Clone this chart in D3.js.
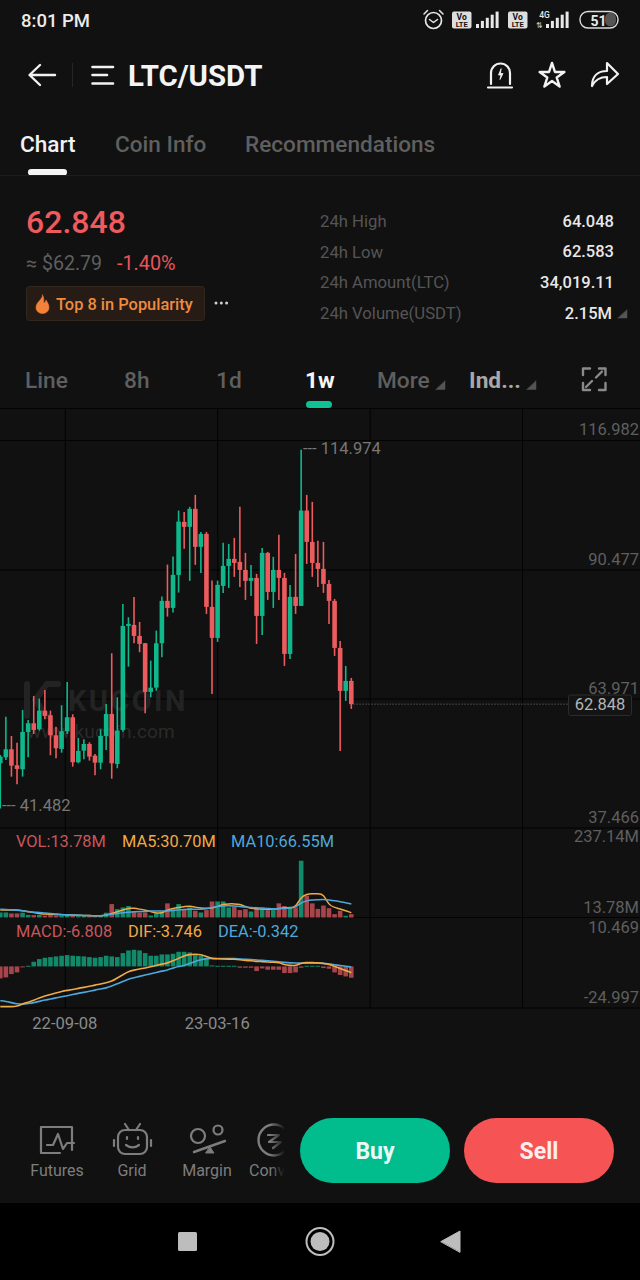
<!DOCTYPE html>
<html>
<head>
<meta charset="utf-8">
<script src="https://cdn.jsdelivr.net/npm/d3@7"></script>
<style>
html, body { margin: 0; padding: 0; background: #111; }
svg { display: block; font-family: Roboto, sans-serif; }
</style>
</head>
<body>
<div id="chart"></div>
<script>
const open_ = [50.73,51.96,53.60,50.32,49.50,57.15,58.93,57.70,61.52,60.57,56.47,53.67,57.29,60.16,50.94,53.32,54.69,52.29,50.86,56.33,60.84,50.59,57.56,78.88,79.09,76.83,75.33,65.35,66.23,75.33,84.01,82.57,89.34,100.20,99.18,102.87,95.08,97.74,82.78,76.42,87.08,91.18,92.62,92.00,90.36,88.11,88.72,80.93,93.85,85.85,90.36,88.72,73.14,84.83,82.98,102.52,96.10,91.80,90.57,87.49,84.01,74.37,65.56,67.61];
const close_ = [52.09,53.60,50.24,49.57,57.15,58.93,57.56,61.52,60.43,56.47,53.81,57.29,60.16,50.94,53.26,54.69,52.09,50.86,56.33,60.84,50.73,57.42,78.88,79.29,76.83,75.19,65.35,66.23,75.33,84.01,82.57,89.34,100.26,99.18,102.87,95.08,97.74,82.78,76.42,87.29,91.18,92.62,91.80,90.36,88.11,88.72,80.93,93.85,85.85,90.36,88.72,73.14,84.83,82.98,102.52,96.10,91.80,90.57,87.49,84.01,74.37,65.56,67.61,62.848];
const high_ = [52.44,60.29,56.33,54.96,61.66,59.61,64.53,63.98,65.76,61.52,58.24,62.62,67.40,60.78,55.92,55.65,55.04,52.64,57.70,62.89,73.28,64.26,83.39,80.66,84.83,79.70,75.40,71.77,77.92,84.89,91.45,93.09,102.52,102.25,103.28,105.74,98.15,98.15,88.17,88.17,95.90,95.69,96.92,103.28,93.85,91.39,89.54,94.87,94.05,93.03,97.54,89.75,87.29,93.64,114.974,105.74,104.30,96.31,96.10,88.31,84.42,75.81,70.68,68.22];
const low_ = [41.482,51.41,47.99,46.43,47.99,51.96,56.74,57.42,59.75,52.37,51.76,52.91,56.74,50.04,50.73,51.55,51.27,48.27,49.50,53.46,47.58,49.71,57.21,70.54,75.33,73.49,60.98,64.26,65.62,72.46,80.79,81.61,85.71,94.67,88.11,91.39,89.75,81.34,64.94,75.60,85.65,86.67,88.93,86.88,84.21,85.03,75.19,77.04,84.21,82.57,84.21,70.68,72.12,81.34,82.98,91.59,88.93,86.88,85.65,79.29,72.73,53.26,63.51,61.87];

// volume in millions
const volume = [21,21,17,17,20,11,10,11,8,10,8,7,10,8,6,6,6,6,7,20,56,35,42,48,25,21,21,8,17,25,59,39,56,31,42,28,21,31,67,67,67,42,45,31,35,25,36,36,31,31,59,48,45,42,237.14,91,59,36,50,39,14,28,7,13.78];
const ma5 = [31,31,31,32,28,24,21,17,14,14,13,11,11,11,10,8,8,7,7,10,17,24,31,39,39,35,31,25,18,18,31,39,42,45,49,43,39,38,39,46,56,57,57,56,45,38,36,35,34,35,38,41,41,41,87,98,99,99,99,50,42,36,28,20];
const ma10 = [34,34,32,31,28,25,22,21,18,17,14,13,11,10,10,8,8,7,7,10,14,17,20,22,24,25,25,27,27,27,27,29,32,34,35,35,34,36,42,46,49,49,48,46,43,42,41,39,38,36,36,38,39,41,63,70,73,74,76,73,70,66,62,56];

const macd = [-7.2,-6.6,-4.6,-3.6,-0.4,0.4,2.8,4.4,5.2,5.6,6.0,6.4,6.8,6.4,6.2,6.0,5.6,5.2,5.6,6.4,6.0,5.6,8.0,9.6,10.0,9.6,8.0,6.4,6.4,7.2,7.2,7.6,8.8,8.8,8.4,7.2,6.4,5.2,0.6,0.4,0.4,0.4,0.4,-0.8,-0.8,-0.8,-2.8,-1.2,-2,-2,-2,-4,-4,-3.6,-0.8,0.4,0.4,0.4,-1,-1.4,-3.6,-5.2,-6,-6.808];
const dif = [-24.2,-24.2,-24.2,-24,-22.6,-21.5,-20.3,-19,-17.8,-16.8,-16,-15,-14.4,-13.9,-13.2,-12.6,-12,-11.2,-10.6,-9.8,-9,-7,-5,-3,-2.2,-1.5,-1,-0.2,0.6,1.4,2,3.4,4.8,6.4,7.2,7.4,7.2,6,4.6,4.6,4.5,4.4,4.3,4,3.6,3.4,3,2.9,2.7,2.5,2.4,1,0.6,0.4,2,2.4,2.4,2.2,1.8,1.4,0,-1.2,-2.4,-3.746];
const dea = [-20.6,-21,-21.8,-22.5,-22.8,-22.3,-21.8,-21,-20.2,-19.6,-18.9,-18.2,-17.6,-16.9,-16.2,-15.6,-15,-14.2,-13.6,-13,-11.8,-10.5,-9,-7.6,-6.8,-6,-5.2,-4.4,-3.6,-2.8,-2.2,-1,0,0.4,1.8,3,4,4.8,4.8,4.8,4.8,4.8,4.7,4.5,4.3,4.1,3.9,3.7,3.4,3.1,2.8,2.4,2.1,2,2,2,2,2,1.9,1.5,1,0.6,0.1,-0.342];

const priceTicks = [116.982, 90.477, 63.971, 37.466];
const dateTicks = ["22-09-08", "23-03-16", "23-09-21", "24-03-28"];
const dateLabels = ["22-09-08", "23-03-16"];
const statLabels = ["24h High", "24h Low", "24h Amount(LTC)", "24h Volume(USDT)"];
const statValues = ["64.048", "62.583", "34,019.11", "2.15M"];

const GREEN = "#0fb78b", RED = "#ec5b5d", DIMGREEN = "#12896a", DIMRED = "#a8454a";
const YELLOW = "#f0aa45", BLUE = "#4ea8dc", GRID = "#030303", MUTED = "#5f5f5f";

const svg = d3.select("#chart").append("svg").attr("width", 640).attr("height", 1280);
svg.append("rect").attr("width", 640).attr("height", 1280).attr("fill", "#111111");

function label(x, y, str, size, fill, weight, anchor) {
    return svg.append("text").attr("x", x).attr("y", y).attr("font-size", size)
        .attr("fill", fill).attr("font-weight", weight || 400)
        .attr("text-anchor", anchor || "start").text(str);
}

function icon(d, stroke, width, fill) {
    return svg.append("path").attr("d", d).attr("fill", fill || "none")
        .attr("stroke", stroke).attr("stroke-width", width)
        .attr("stroke-linecap", "round").attr("stroke-linejoin", "round");
}

// scales
const x = d3.scaleLinear().domain([0, open_.length - 1]).range([0.3, 351.3]);
const y = d3.scaleLinear().domain([37.466, 116.982]).range([828, 440]);
const yVol = d3.scaleLinear().domain([0, 237.14]).range([917.5, 860.7]);
const yMacd = d3.scaleLinear().domain([-24.997, 10.469]).range([1008, 949]);
const xDate = d3.scalePoint().domain(dateTicks).range([65.3, 522.5]);

// status bar
label(21, 27, "8:01 PM", 18.5, "#ececec", 500);
svg.append("circle").attr("cx", 433.5).attr("cy", 20.5).attr("r", 8).attr("fill", "none").attr("stroke", "#e6e6e6").attr("stroke-width", 1.7);
icon("M429.5 19.5l4 3 4-3M424 14l3.5-3.5M443 14l-3.5-3.5", "#e6e6e6", 1.5);
[452, 508].forEach(bx => {
    svg.append("rect").attr("x", bx).attr("y", 11.5).attr("width", 19.5).attr("height", 17).attr("rx", 2).attr("fill", "#dedede");
    label(bx + 9.7, 19.5, "Vo", 8.5, "#111", 700, "middle");
    label(bx + 9.7, 27, "LTE", 7.5, "#111", 700, "middle");
});
[476, 546].forEach(bx => {
    d3.range(5).forEach(i => {
        const h = 4 + i * 3.1;
        svg.append("rect").attr("x", bx + i * 4.9).attr("y", 28 - h).attr("width", 3).attr("height", h).attr("fill", "#e8e8e8");
    });
});
label(544.5, 17.5, "4G", 8.5, "#e6e6e6", 500, "middle");
label(539, 28, "⇅", 8, "#cccccc", 400, "middle");
svg.append("rect").attr("x", 605).attr("y", 12.5).attr("width", 11).attr("height", 14).attr("rx", 6).attr("fill", "#555");
svg.append("rect").attr("x", 580).attr("y", 11.5).attr("width", 38).attr("height", 16.5).attr("rx", 8).attr("fill", "none").attr("stroke", "#dcdcdc").attr("stroke-width", 1.4);
label(598.5, 25.5, "51", 14, "#e8e8e8", 700, "middle");

// header
icon("M55 75H30M40 65L29.5 75L40 85", "#f2f2f2", 2.4);
svg.append("line").attr("x1", 72.5).attr("x2", 72.5).attr("y1", 63).attr("y2", 87).attr("stroke", "#262626").attr("stroke-width", 1);
icon("M92.5 67H113M92.5 75H107M92.5 83.5H113", "#f2f2f2", 2.6);
label(128, 86, "LTC/USDT", 29.4, "#f4f4f4", 700);
icon("M491 84V73A9.5 9.5 0 0 1 510 73V84M488 87.5H512", "#f2f2f2", 2.2);
icon("M501 69L498.5 75H501L500 79.5L503 73.5H500.8Z", "#f2f2f2", 0.8, "#f2f2f2");
icon(d3.symbol(d3.symbolStar, 190)(), "#f2f2f2", 2.4).attr("transform", "translate(552,76)");
icon("M592 86C592 76 598 71 607 71V63L618 74L607 84V77C600 77 595 80 592 86Z", "#f2f2f2", 2.2);

// tabs
label(20, 152, "Chart", 22.6, "#f2f2f2", 500);
label(115, 152, "Coin Info", 22.6, MUTED, 500);
label(245, 152, "Recommendations", 22.6, MUTED, 500);
svg.append("rect").attr("x", 28).attr("y", 169).attr("width", 39).attr("height", 6.5).attr("rx", 3.2).attr("fill", "#f4f4f4");
svg.append("line").attr("x1", 0).attr("x2", 640).attr("y1", 175.5).attr("y2", 175.5).attr("stroke", "#1d1d1d");

// price block
label(26, 233, "62.848", 32, "#ee5a5e", 500);
label(26, 270, "≈ $62.79", 19.6, MUTED);
label(117, 270, "-1.40%", 19.8, "#e9545a");
svg.append("rect").attr("x", 26.5).attr("y", 286.5).attr("width", 178).attr("height", 34).attr("rx", 3).attr("fill", "#261c15").attr("stroke", "#33261c");
icon("M42.5 295C43 299 36 302 36 307.5C36 311 39 313.5 42.5 313.5C46 313.5 49 311 49 307.5C49 304 47 302 46 300C45.5 302 44.5 303 43.5 303C44 300 44 297 42.5 295Z", "#f5823a", 0.5, "#f5823a");
label(56, 310, "Top 8 in Popularity", 16.4, "#ef8b3e", 500);
[216, 221.3, 226.6].forEach(cx => svg.append("circle").attr("cx", cx).attr("cy", 303).attr("r", 1.5).attr("fill", "#cfcfcf"));

statLabels.forEach((s, i) => {
    const by = 227 + i * 30.7;
    label(320, by, s, 16.7, "#555555");
    label(i === 3 ? 612 : 614, by - 0.5, statValues[i], 16.5, "#e8e8e8", 500, "end");
});
icon("M618 318L627 318L627 310Z", "#555", 0.5, "#555");

// interval row
label(25, 388, "Line", 22.7, MUTED, 500);
label(124, 388, "8h", 22.7, MUTED, 500);
label(216, 388, "1d", 22.7, MUTED, 500);
label(305, 388, "1w", 22.7, "#f6f6f6", 700);
label(377, 388, "More", 22.7, MUTED, 500);
icon("M436 389.5L445 389.5L445 381Z", "#555", 0.5, "#555");
label(469, 388, "Ind...", 22.7, "#a8a8a8", 700);
icon("M527 389.5L536 389.5L536 381Z", "#555", 0.5, "#555");
icon("M583 375V368.5H590M599 368.5H605.5V375M583 383V390H590M599 390H605.5V383M586 387L592 381M602 371.5L596 377.5", "#8a8a8a", 2.4);
svg.append("rect").attr("x", 306).attr("y", 401).attr("width", 26).attr("height", 7).attr("rx", 3.5).attr("fill", "#0fc295");

// grid
const hLines = [408.5, 440.5, 570, 699, 828, 917.5, 1008];
svg.append("g").selectAll("line").data(hLines).join("line")
    .attr("x1", 0).attr("x2", 640).attr("y1", d => d).attr("y2", d => d)
    .attr("stroke", GRID).attr("stroke-width", 1);
svg.append("g").selectAll("line").data(dateTicks).join("line")
    .attr("x1", d => xDate(d)).attr("x2", d => xDate(d)).attr("y1", 409).attr("y2", 1008)
    .attr("stroke", GRID).attr("stroke-width", 1);

// watermark
icon("M27 684V716M47 684L35 700L47 716M35 700L47 684H58", "#232323", 6);
label(68, 711, "KUCOIN", 29, "#232323", 700).attr("letter-spacing", 2.4);
label(27, 738, "www.kucoin.com", 19, "#2a2a2a").attr("letter-spacing", 0.2);

// candles
const candles = svg.append("g");
candles.selectAll("line").data(open_).join("line")
    .attr("x1", (d, i) => x(i)).attr("x2", (d, i) => x(i))
    .attr("y1", (d, i) => y(high_[i])).attr("y2", (d, i) => y(low_[i]))
    .attr("stroke", (d, i) => close_[i] >= d ? GREEN : RED).attr("stroke-width", 1.6);
candles.selectAll("rect").data(open_).join("rect")
    .attr("x", (d, i) => x(i) - 2.3).attr("width", 4.6)
    .attr("y", (d, i) => y(Math.max(d, close_[i])))
    .attr("height", (d, i) => Math.max(1.2, Math.abs(y(d) - y(close_[i]))))
    .attr("fill", (d, i) => close_[i] >= d ? GREEN : RED);

// high / low / last markers
label(303, 454, "--- 114.974", 16.5, "#777777");
label(2, 811, "--- 41.482", 16.5, "#777777");
svg.append("line").attr("x1", x(63) + 2).attr("x2", 568).attr("y1", y(close_[63])).attr("y2", y(close_[63]))
    .attr("stroke", "#555").attr("stroke-dasharray", "1.5 1.5");
svg.append("rect").attr("x", 568.5).attr("y", 695).attr("width", 63).attr("height", 20.5).attr("rx", 2)
    .attr("fill", "#141414").attr("stroke", "#2c2c2c");
label(600, 710, "62.848", 16.5, "#b5b5b5", 400, "middle");

// price axis, labels sit on top of the grid lines
const priceAxis = svg.append("g").attr("transform", "translate(639,4)")
    .call(d3.axisLeft(y).tickValues(priceTicks).tickSize(0).tickFormat(d3.format(".3f")));
priceAxis.select(".domain").remove();
priceAxis.selectAll("text").attr("x", 0).attr("dy", "-0.55em")
    .attr("font-size", 16.5).attr("font-family", "Roboto").attr("fill", MUTED);

// volume pane
svg.append("g").selectAll("rect").data(volume).join("rect")
    .attr("x", (d, i) => x(i) - 2.3).attr("width", 4.6)
    .attr("y", d => yVol(d)).attr("height", d => yVol(0) - yVol(d))
    .attr("fill", (d, i) => close_[i] >= open_[i] ? DIMGREEN : DIMRED);
const lineVol = d3.line().x((d, i) => x(i)).y(d => yVol(d)).curve(d3.curveBasis);
svg.append("path").attr("d", lineVol(ma5)).attr("fill", "none").attr("stroke", YELLOW).attr("stroke-width", 1.5);
svg.append("path").attr("d", lineVol(ma10)).attr("fill", "none").attr("stroke", BLUE).attr("stroke-width", 1.5);
label(16, 847, "VOL:13.78M", 16.4, "#c9565b");
label(122, 847, "MA5:30.70M", 16.4, YELLOW);
label(231, 847, "MA10:66.55M", 16.4, BLUE);
label(639, 842, "237.14M", 16.5, MUTED, 400, "end");
label(639, 913, "13.78M", 16.5, MUTED, 400, "end");

// macd pane
svg.append("g").selectAll("rect").data(macd).join("rect")
    .attr("x", (d, i) => x(i) - 2.3).attr("width", 4.6)
    .attr("y", d => Math.min(yMacd(d), yMacd(0)))
    .attr("height", d => Math.max(1, Math.abs(yMacd(d) - yMacd(0))))
    .attr("fill", d => d >= 0 ? DIMGREEN : DIMRED);
const lineMacd = d3.line().x((d, i) => x(i)).y(d => yMacd(d)).curve(d3.curveBasis);
svg.append("path").attr("d", lineMacd(dea)).attr("fill", "none").attr("stroke", BLUE).attr("stroke-width", 1.6);
svg.append("path").attr("d", lineMacd(dif)).attr("fill", "none").attr("stroke", YELLOW).attr("stroke-width", 1.6);
label(16, 937, "MACD:-6.808", 16.4, "#c9565b");
label(128, 937, "DIF:-3.746", 16.4, YELLOW);
label(218, 937, "DEA:-0.342", 16.4, BLUE);
label(639, 933, "10.469", 16.5, MUTED, 400, "end");
label(639, 1003, "-24.997", 16.5, MUTED, 400, "end");

// date axis
const dateAxis = svg.append("g").attr("transform", "translate(-1,1014)")
    .call(d3.axisBottom(xDate).tickValues(dateLabels).tickSize(0));
dateAxis.select(".domain").remove();
dateAxis.selectAll("text").attr("font-size", 16.6).attr("font-family", "Roboto").attr("fill", "#8a8a8a");

// bottom toolbar
const ICON = "#7d7d7d";
icon("M41 1141V1127H72V1150M41 1141V1153H60", ICON, 2.2);
icon("M47 1145H53L58 1134L63 1149L67 1143H74", ICON, 2.2);
label(57, 1176, "Futures", 16, ICON, 400, "middle");
svg.append("rect").attr("x", 118).attr("y", 1130).attr("width", 29).attr("height", 24).attr("rx", 7).attr("fill", "none").attr("stroke", ICON).attr("stroke-width", 2.2);
icon("M125 1124L129 1130M140 1124L136 1130M114 1140V1146M151 1140V1146M127 1137V1139M138 1137V1139M126 1145C130 1148 135 1148 139 1145", ICON, 2.2);
label(132, 1176, "Grid", 16, ICON, 400, "middle");
svg.append("circle").attr("cx", 198).attr("cy", 1136).attr("r", 7).attr("fill", "none").attr("stroke", ICON).attr("stroke-width", 2.2);
svg.append("circle").attr("cx", 218).attr("cy", 1130).attr("r", 4.5).attr("fill", "none").attr("stroke", ICON).attr("stroke-width", 2.2);
icon("M194 1152L225 1141", ICON, 2.4);
icon("M206 1153L214 1153L210 1147Z", ICON, 1, ICON);
label(207, 1176, "Margin", 16, ICON, 400, "middle");
svg.append("defs").append("linearGradient").attr("id", "fade").selectAll("stop")
    .data([["0%", "#111111", 0], ["100%", "#111111", 1]]).join("stop")
    .attr("offset", d => d[0]).attr("stop-color", d => d[1]).attr("stop-opacity", d => d[2]);
svg.append("circle").attr("cx", 274).attr("cy", 1140).attr("r", 15.5).attr("fill", "none").attr("stroke", ICON).attr("stroke-width", 2.4);
icon("M268 1135H279L269 1142H281L273 1148", ICON, 2.2);
label(249, 1176, "Conv", 16, ICON);
svg.append("rect").attr("x", 270).attr("y", 1120).attr("width", 15).attr("height", 62).attr("fill", "url(#fade)");
svg.append("rect").attr("x", 284).attr("y", 1120).attr("width", 16).attr("height", 62).attr("fill", "#111111");

svg.append("rect").attr("x", 300).attr("y", 1118).attr("width", 150).attr("height", 65).attr("rx", 32.5).attr("fill", "#01bc8d");
label(375, 1159, "Buy", 23, "#eafaf5", 700, "middle");
svg.append("rect").attr("x", 464).attr("y", 1118).attr("width", 150).attr("height", 65).attr("rx", 32.5).attr("fill", "#f65454");
label(539, 1159, "Sell", 23, "#fdeeee", 700, "middle");

// nav bar
svg.append("rect").attr("y", 1203).attr("width", 640).attr("height", 77).attr("fill", "#000");
svg.append("rect").attr("x", 178).attr("y", 1232).attr("width", 19).attr("height", 19).attr("rx", 1.5).attr("fill", "#bdbdbd");
svg.append("circle").attr("cx", 320).attr("cy", 1241.5).attr("r", 13.5).attr("fill", "none").attr("stroke", "#bdbdbd").attr("stroke-width", 2);
svg.append("circle").attr("cx", 320).attr("cy", 1241.5).attr("r", 9.5).attr("fill", "#bdbdbd");
icon("M441 1241.5L460 1231V1252Z", "#bdbdbd", 1, "#bdbdbd");
</script>
</body>
</html>
